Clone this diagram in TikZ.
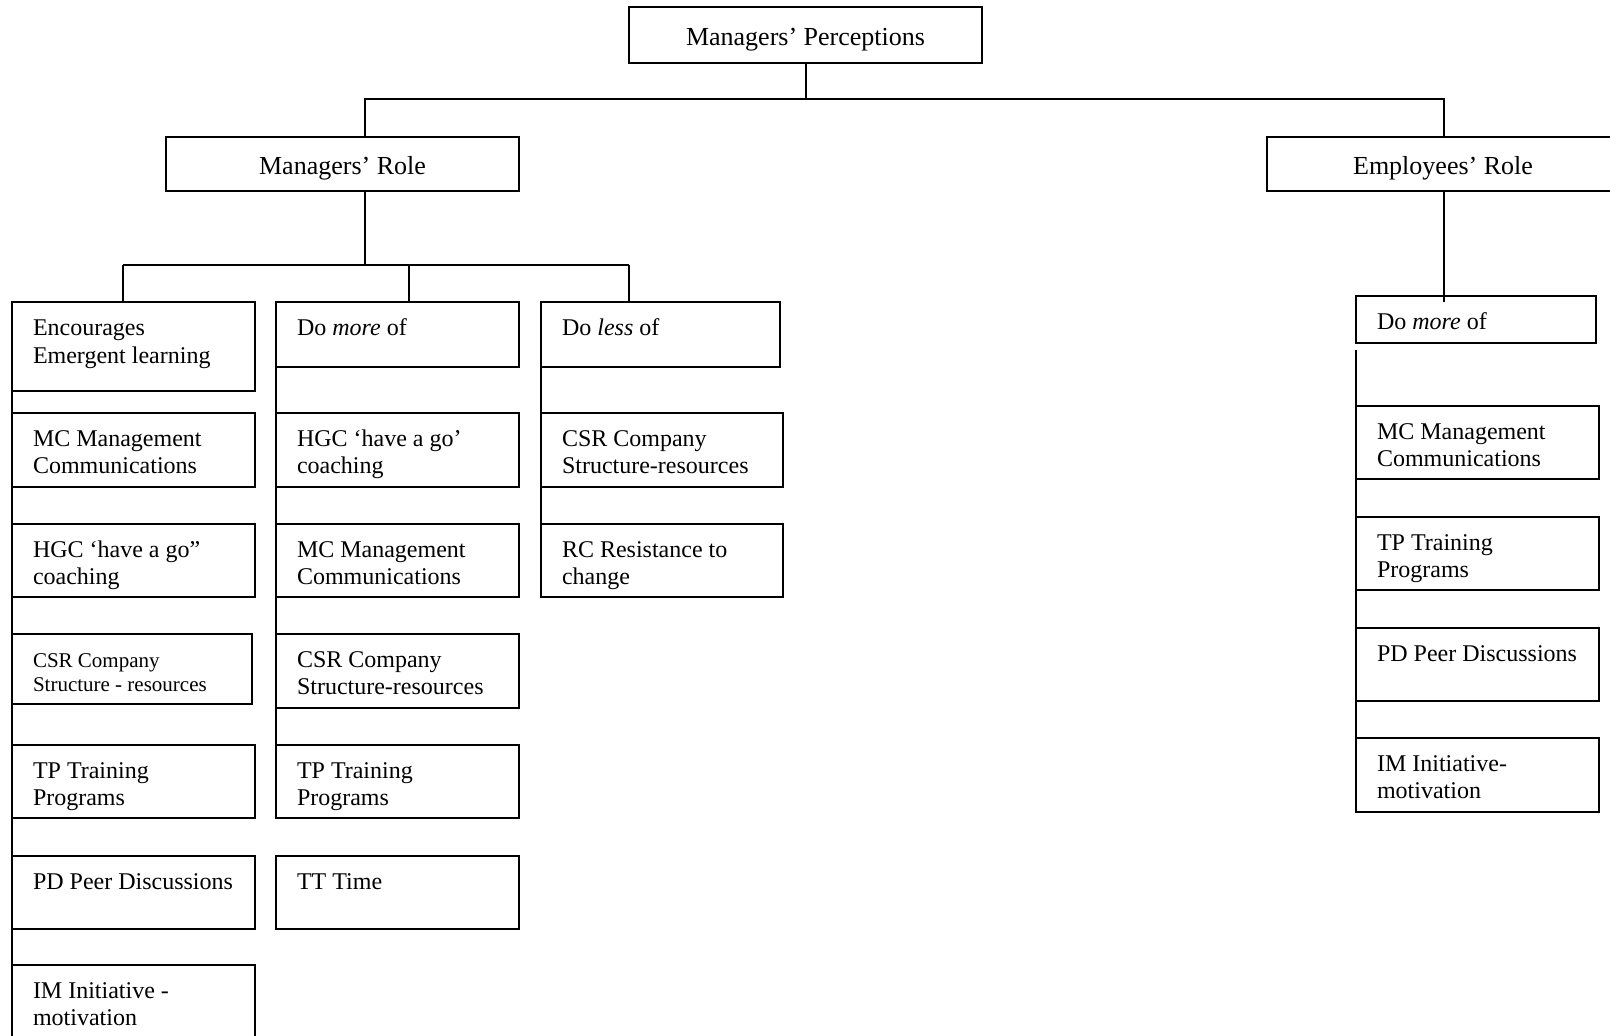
\documentclass[tikz,border=0pt]{standalone}
\usepackage{fontspec}
\setmainfont{Liberation Serif}
\tikzset{
  bx/.style={draw, line width=1pt, inner sep=0pt, outer sep=0pt, anchor=north west},
  txt/.style={inner sep=0pt, outer sep=0pt, anchor=base west, text width=112pt, align=left,
    font=\fontsize{12pt}{13.5pt}\selectfont},
  smalltxt/.style={font=\fontsize{10.5pt}{12pt}\selectfont},
  ttl/.style={draw, line width=1pt, inner sep=0pt, outer sep=0pt, anchor=center,
    font=\fontsize{13pt}{15pt}\selectfont, text height=13.7pt, text depth=3.1pt},
  conn/.style={line width=1pt}
}
\newcommand\bx[7]{%
  \node[bx, minimum width={(#4-#2)*0.5pt}, minimum height={(#5-#3)*0.5pt}] (#1) at (#2,#3) {};
  \node[txt, #6] (#1t) at ([shift={(10.5pt,-16.8pt)}]#1.north west) {\spaceskip=0pt\xspaceskip=0pt\relax #7};}
\begin{document}
\begin{tikzpicture}[x=0.5pt,y=-0.5pt]
\useasboundingbox (0,0) rectangle (1610,1036);
\clip (0,0) rectangle (1610,1036);

% top level
\node[ttl, minimum width=176.2pt, minimum height=27.7pt] (mp) at (805.5,35) {Managers’ Perceptions};
\node[ttl, minimum width=176.5pt, minimum height=27.4pt] (mr) at (342.5,164) {Managers’ Role};
\node[ttl, minimum width=176.5pt, minimum height=27.4pt] (er) at (1443,164) {Employees’ Role};

% column 1
\bx{c1a}{12}{302}{255}{391}{}{Encourages\\[0.5pt]Emergent learning}
\bx{c1b}{12}{413}{255}{487}{}{MC Management\\Communications}
\bx{c1c}{12}{524}{255}{597}{}{HGC ‘have a go”\\coaching}
\bx{c1d}{12}{634}{252}{704}{smalltxt}{CSR Company\\Structure - resources}
\bx{c1e}{12}{745}{255}{818}{}{TP Training\\Programs}
\bx{c1f}{12}{856}{255}{929}{}{PD Peer Discussions}
\bx{c1g}{12}{965}{255}{1060}{}{IM Initiative -\\motivation}

% column 2
\bx{c2a}{276}{302}{519}{367}{}{Do \textit{more} of}
\bx{c2b}{276}{413}{519}{487}{}{HGC ‘have a go’\\coaching}
\bx{c2c}{276}{524}{519}{597}{}{MC Management\\Communications}
\bx{c2d}{276}{634}{519}{708}{}{CSR Company\\Structure-resources}
\bx{c2e}{276}{745}{519}{818}{}{TP Training\\Programs}
\bx{c2f}{276}{856}{519}{929}{}{TT Time}

% column 3
\bx{c3a}{541}{302}{780}{367}{}{Do \textit{less} of}
\bx{c3b}{541}{413}{783}{487}{}{CSR Company\\Structure-resources}
\bx{c3c}{541}{524}{783}{597}{}{RC Resistance to\\change}

% employees
\bx{e1}{1356}{296}{1596}{343}{}{Do \textit{more} of}
\bx{e2}{1356}{406}{1599}{479}{}{MC Management\\Communications}
\bx{e3}{1356}{517}{1599}{590}{}{TP Training\\Programs}
\bx{e4}{1356}{628}{1599}{701}{}{PD Peer Discussions}
\bx{e5}{1356}{738}{1599}{812}{}{IM Initiative-\\motivation}

% junction coordinates
\coordinate (hL) at (365,99);
\coordinate (hR) at (1444,99);
\coordinate (m2) at (365,265);
\coordinate (t1) at (123,265);
\coordinate (t2) at (409,265);
\coordinate (t3) at (629,265);

% connectors
\draw[conn] (mp.south) -- (mp.south |- hL);
\draw[conn] (mr.north -| hL) -- (hL) -- (hR) -- (er.north -| hR);
\draw[conn] (mr.south -| m2) -- (m2);
\draw[conn] (t1) -- (t3);
\draw[conn] (t1) -- (t1 |- c1a.north);
\draw[conn] (t2) -- (t2 |- c2a.north);
\draw[conn] (t3) -- (t3 |- c3a.north);
\draw[conn] (er.south -| hR) -- (hR |- 0,302);

% side lines
\draw[conn] (c1a.west |- 0,358) -- (c1g.north west);
\draw[conn] (c2a.west |- 0,357) -- (c2e.north west);
\draw[conn] (c3a.west |- 0,357) -- (c3c.north west);
\draw[conn] (e1.west |- 0,350) -- (e5.north west);
\end{tikzpicture}
\end{document}
